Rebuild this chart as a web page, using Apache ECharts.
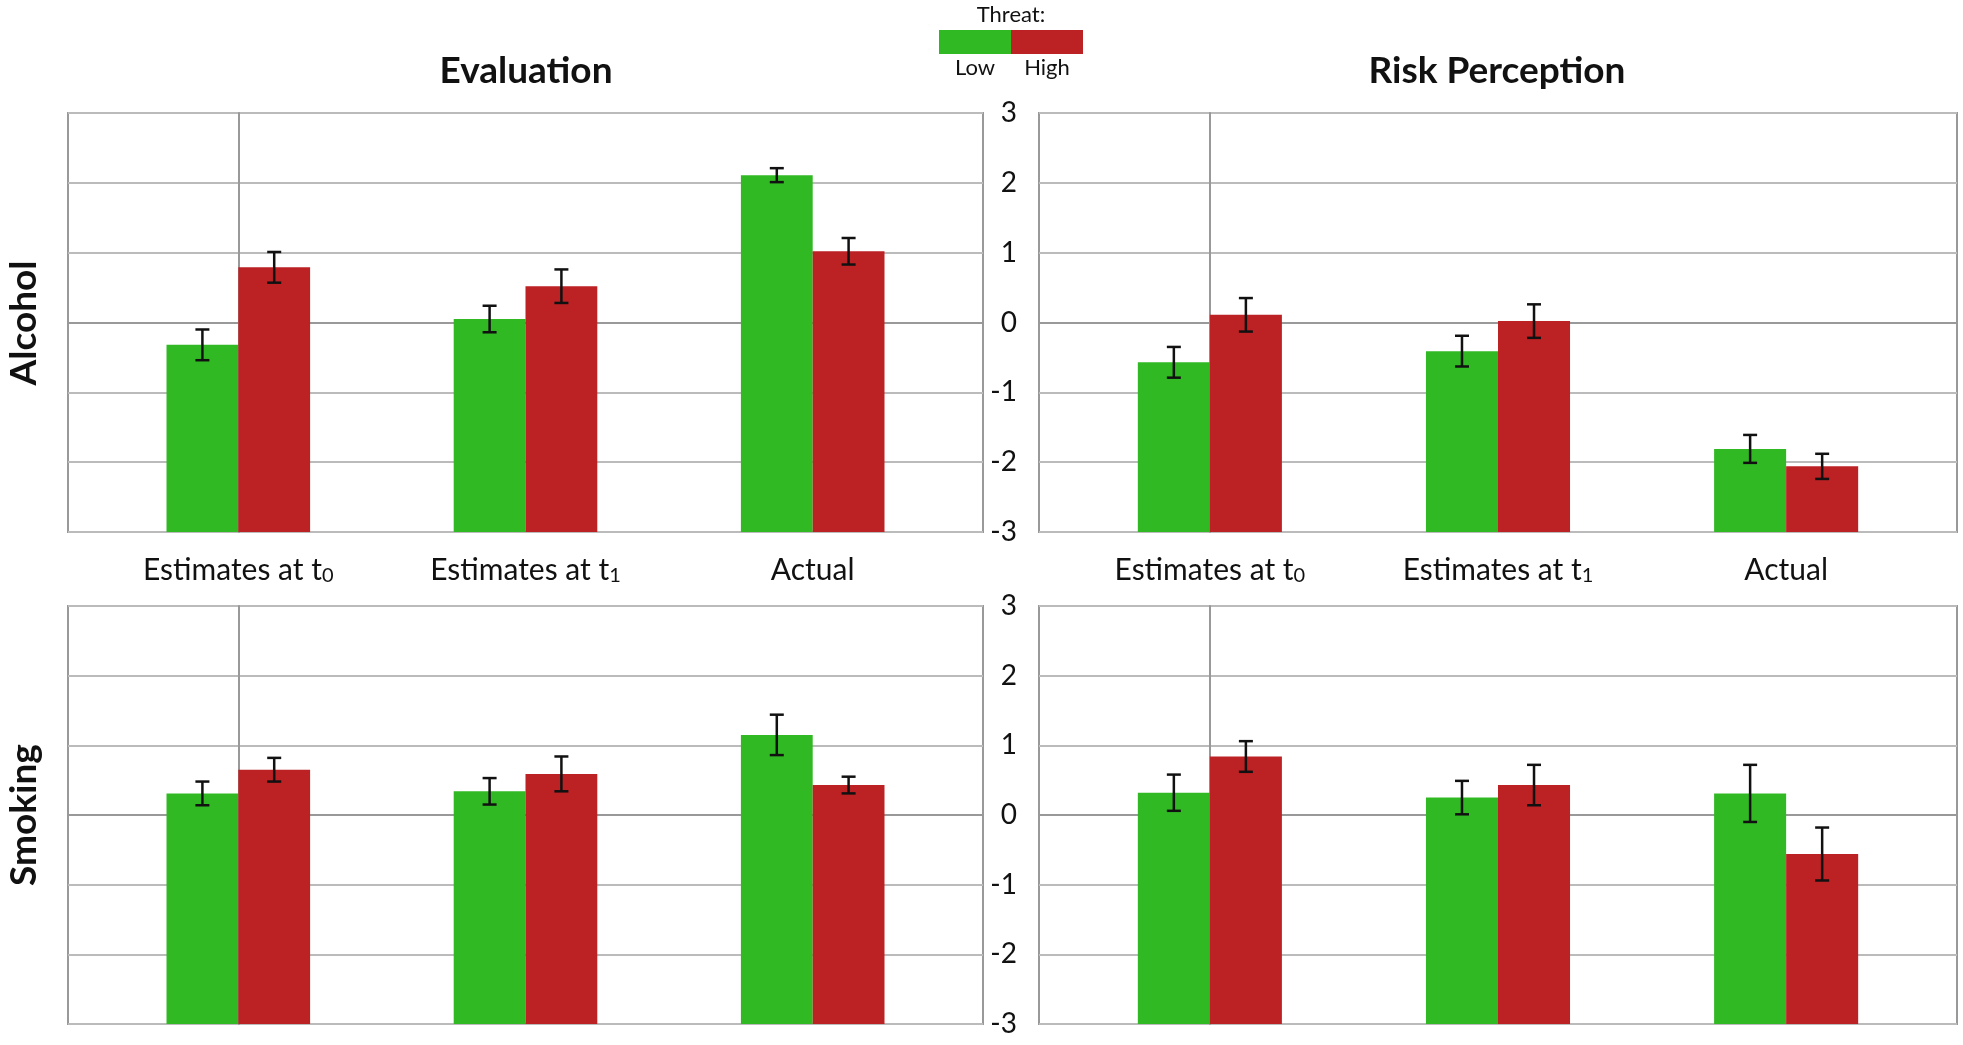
<!DOCTYPE html>
<html>
<head>
<meta charset="UTF-8">
<script src="https://cdn.jsdelivr.net/npm/echarts@6/dist/echarts.min.js"></script>
<style>html,body{margin:0;padding:0;background:#fff}</style>
</head>
<body>
<div id="main" style="width:1963px;height:1045px"></div>
<script>
var categories = ['Estimates at t0', 'Estimates at t1', 'Actual'];
var yTicks = [-3, -2, -1, 0, 1, 2, 3];
// low / high means and error half-widths per panel
var evalAlcLow = [-0.32, 0.05, 2.11], evalAlcLowErr = [0.22, 0.19, 0.10];
var evalAlcHigh = [0.79, 0.52, 1.02], evalAlcHighErr = [0.22, 0.24, 0.19];
var riskAlcLow = [-0.57, -0.41, -1.81], riskAlcLowErr = [0.22, 0.22, 0.20];
var riskAlcHigh = [0.11, 0.02, -2.06], riskAlcHighErr = [0.24, 0.24, 0.18];
var evalSmkLow = [0.31, 0.34, 1.15], evalSmkLowErr = [0.17, 0.19, 0.29];
var evalSmkHigh = [0.65, 0.59, 0.43], evalSmkHighErr = [0.17, 0.25, 0.12];
var riskSmkLow = [0.32, 0.25, 0.31], riskSmkLowErr = [0.26, 0.24, 0.41];
var riskSmkHigh = [0.84, 0.43, -0.56], riskSmkHighErr = [0.22, 0.29, 0.38];

var GREEN = '#31b924', RED = '#bc2124', FONT = 'Lato';
var HALF = 0.25;      // bar width in category units
var PAD = 0.593;      // space left/right of first/last category
var grids = [
  {left: 68, top: 113, width: 915, height: 419},
  {left: 1039, top: 113, width: 918, height: 419},
  {left: 68, top: 606, width: 915, height: 418},
  {left: 1039, top: 606, width: 918, height: 418}
];
var panels = [
  [evalAlcLow, evalAlcLowErr, evalAlcHigh, evalAlcHighErr],
  [riskAlcLow, riskAlcLowErr, riskAlcHigh, riskAlcHighErr],
  [evalSmkLow, evalSmkLowErr, evalSmkHigh, evalSmkHighErr],
  [riskSmkLow, riskSmkLowErr, riskSmkHigh, riskSmkHighErr]
];

var xAxis = [], yAxis = [], series = [];
grids.forEach(function (g, i) {
  g.show = true; g.borderColor = '#999'; g.borderWidth = 2;
  xAxis.push({
    type: 'value', gridIndex: i, min: -PAD, max: categories.length - 1 + PAD,
    axisLine: {show: true, lineStyle: {color: '#999', width: 2}}, axisTick: {show: false},
    axisLabel: {show: false}, splitLine: {show: false}
  });
  yAxis.push({
    type: 'value', gridIndex: i, min: yTicks[0], max: yTicks[yTicks.length - 1], interval: 1,
    axisLine: {show: true, lineStyle: {color: '#999', width: 2}}, axisTick: {show: false},
    splitLine: {lineStyle: {color: '#bbb', width: 2}},
    axisLabel: {show: i % 2 === 1, fontFamily: FONT, fontSize: 28, color: '#111', margin: 22}
  });
  var p = panels[i];
  [[p[0], p[1], -1, GREEN], [p[2], p[3], 1, RED]].forEach(function (s) {
    series.push({
      type: 'custom', xAxisIndex: i, yAxisIndex: i, silent: true,
      data: s[0].map(function (v, k) { return [k, v]; }),
      renderItem: function (params, api) {
        var k = api.value(0);
        var a = api.coord([s[2] < 0 ? k - HALF : k, api.value(1)]);
        var b = api.coord([s[2] < 0 ? k : k + HALF, yTicks[0]]);
        return {type: 'rect', shape: {x: a[0], y: a[1], width: b[0] - a[0], height: b[1] - a[1]}, style: {fill: s[3]}};
      }
    });
    series.push({
      type: 'custom', xAxisIndex: i, yAxisIndex: i, z: 10, silent: true,
      data: s[0].map(function (v, k) { return [k + s[2] * HALF / 2, v - s[1][k], v + s[1][k]]; }),
      renderItem: function (params, api) {
        var lo = api.coord([api.value(0), api.value(1)]);
        var hi = api.coord([api.value(0), api.value(2)]);
        var x = lo[0], c = 7;
        var st = {stroke: '#111', lineWidth: 2.5};
        return {type: 'group', children: [
          {type: 'line', shape: {x1: x, y1: lo[1], x2: x, y2: hi[1]}, style: st},
          {type: 'line', shape: {x1: x - c, y1: lo[1], x2: x + c, y2: lo[1]}, style: st},
          {type: 'line', shape: {x1: x - c, y1: hi[1], x2: x + c, y2: hi[1]}, style: st}
        ]};
      }
    });
  });
  if (i < 2) {
    series.push({
      type: 'custom', xAxisIndex: i, yAxisIndex: i, silent: true, clip: false,
      data: categories.map(function (c, k) { return [k, yTicks[0]]; }),
      renderItem: function (params, api) {
        var pt = api.coord([api.value(0), api.value(1)]);
        var name = categories[params.dataIndex];
        var m = name.match(/^(.*t)(\d)$/);
        var text = m ? m[1] + '{s|' + m[2] + '}' : name;
        return {type: 'text', x: pt[0], y: pt[1] + 38, style: {
          text: text, fontFamily: FONT, fontSize: 30, fill: '#111', align: 'center', verticalAlign: 'middle',
          rich: {s: {fontSize: 20, fontFamily: FONT, fill: '#111', padding: [12, 0, 0, 0]}}}};
      }
    });
  }
});

var title = function (text, x, y, rot) {
  return {type: 'text', x: x, y: y, rotation: rot || 0, style: {text: text, fontFamily: FONT, fontSize: 37,
    fontWeight: 'bold', fill: '#111', align: 'center', verticalAlign: 'middle'}};
};
var txt = function (text, x, y) {
  return {type: 'text', x: x, y: y, style: {text: text, fontFamily: FONT, fontSize: 22, fill: '#111', align: 'center', verticalAlign: 'middle'}};
};
var graphic = [
  title('Evaluation', 526, 71),
  title('Risk Perception', 1497, 71),
  title('Alcohol', 24, 323, Math.PI / 2),
  title('Smoking', 24, 815, Math.PI / 2),
  txt('Threat:', 1011, 15),
  {type: 'rect', shape: {x: 939, y: 30, width: 72, height: 24}, style: {fill: GREEN}},
  {type: 'rect', shape: {x: 1011, y: 30, width: 72, height: 24}, style: {fill: RED}},
  txt('Low', 975, 68),
  txt('High', 1047, 68)
];

var chart = echarts.init(document.getElementById('main'));
chart.setOption({animation: false, grid: grids, xAxis: xAxis, yAxis: yAxis, series: series, graphic: graphic});
</script>
</body>
</html>
